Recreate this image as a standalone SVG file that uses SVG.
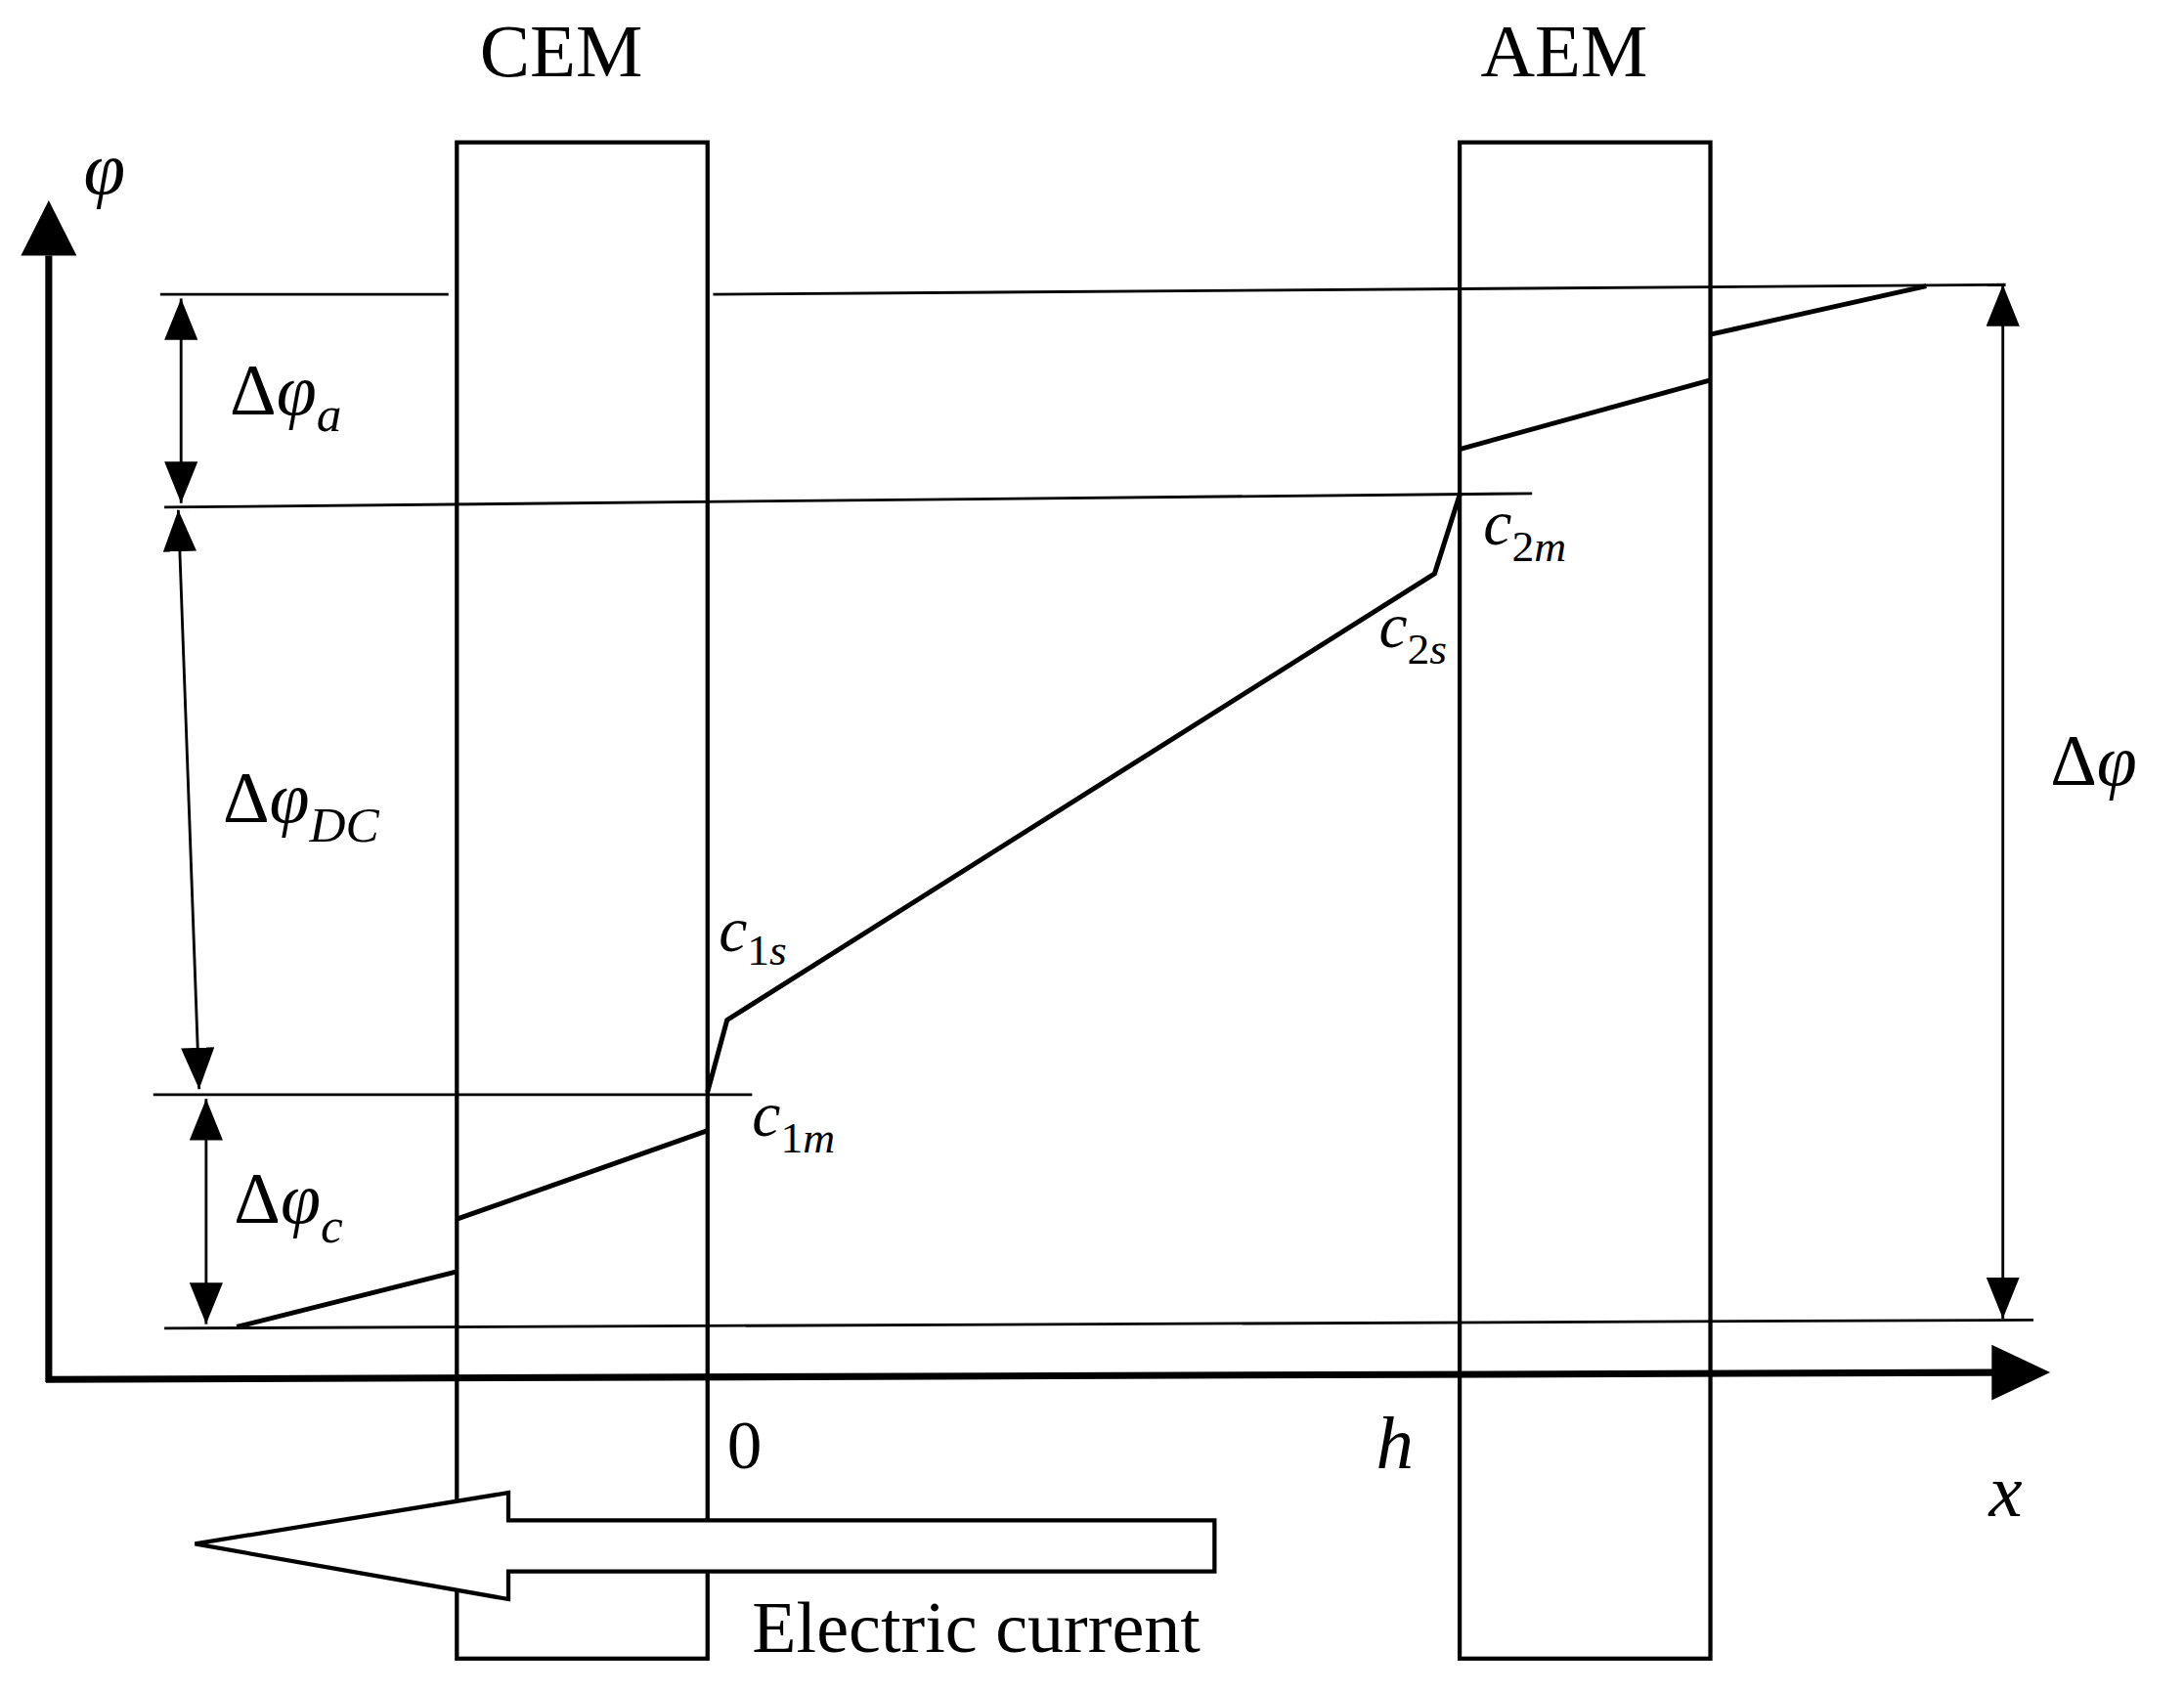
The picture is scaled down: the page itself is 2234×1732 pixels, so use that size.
<svg xmlns="http://www.w3.org/2000/svg" width="2234" height="1732" viewBox="0 0 2234 1732">
<style>
.t{font-family:"Liberation Serif",serif;fill:#000}
.i{font-style:italic}
.ln{stroke:#000;fill:none}
</style>
<defs>
<marker id="ah" viewBox="0 0 10 10" refX="10" refY="5" markerWidth="9" markerHeight="9" orient="auto-start-reverse" markerUnits="userSpaceOnUse"><path d="M0,0 L10,5 L0,10 z" fill="#000"/></marker>
<marker id="dh" viewBox="0 0 10 10" refX="10" refY="5" markerWidth="30" markerHeight="24" orient="auto-start-reverse" markerUnits="userSpaceOnUse" preserveAspectRatio="none"><path d="M0,0 L10,5 L0,10 z" fill="#000"/></marker>
</defs>
<rect width="2234" height="1732" fill="#fff"/>
<g transform="scale(1.4247 1.414)">
<g id="cem"><rect x="328" y="103" width="180" height="1097" class="ln" stroke-width="3"/><text x="403" y="55" font-size="54" text-anchor="middle" class="t">CEM</text></g>
<g id="aem"><rect x="1048" y="103" width="180" height="1097" class="ln" stroke-width="3"/><text x="1123" y="55" font-size="54" text-anchor="middle" class="t">AEM</text></g>
<g id="axes">
<line x1="35" y1="1000" x2="35" y2="185" class="ln" stroke-width="5"/><path d="M15,185 L35,145 L55,185 z"/>
<line x1="33" y1="998" x2="1432" y2="993" class="ln" stroke-width="5"/><path d="M1430,973 L1472,993 L1430,1013 z"/>
<text x="60" y="140" font-size="54" class="t i">φ</text>
<text x="522" y="1062" font-size="50" class="t">0</text>
<text x="988" y="1062" font-size="54" class="t i">h</text>
<text x="1428" y="1097" font-size="54" class="t i">x</text>
</g>
<g id="connectors" stroke-width="2">
<line x1="115" y1="213" x2="322" y2="213" class="ln"/>
<line x1="512" y1="213" x2="1440" y2="206" class="ln"/>
<line x1="118" y1="367" x2="1100" y2="357" class="ln"/>
<line x1="110" y1="792" x2="540" y2="792" class="ln"/>
<line x1="118" y1="961" x2="1460" y2="955" class="ln"/>
<polyline points="170,960 328,920" class="ln" stroke-width="3.5"/>
<polyline points="328,882 508,818" class="ln" stroke-width="3.5"/>
<polyline points="508,790 522,738 1030,415 1048,358" class="ln" stroke-width="3.5"/>
<polyline points="1048,325 1228,275" class="ln" stroke-width="3.5"/>
<polyline points="1228,242 1383,207" class="ln" stroke-width="3.5"/>
<line x1="130" y1="216" x2="130" y2="364" class="ln" marker-start="url(#dh)" marker-end="url(#dh)"/>
<line x1="128" y1="369" x2="143" y2="788" class="ln" marker-start="url(#dh)" marker-end="url(#dh)"/>
<line x1="148" y1="795" x2="148" y2="958" class="ln" marker-start="url(#dh)" marker-end="url(#dh)"/>
<line x1="1438" y1="206" x2="1438" y2="954" class="ln" marker-start="url(#dh)" marker-end="url(#dh)"/>
<path d="M140,1117 L365,1080 L365,1100 L872,1100 L872,1137 L365,1137 L365,1157 z" fill="#fff" stroke="#000" stroke-width="3"/>
</g>
<g id="labels" class="t">
<text x="165" y="300" font-size="52">Δ<tspan class="i">φ</tspan><tspan class="i" font-size="36" dy="12">a</tspan></text>
<text x="160" y="595" font-size="52">Δ<tspan class="i">φ</tspan><tspan class="i" font-size="36" dy="14">DC</tspan></text>
<text x="168" y="885" font-size="52">Δ<tspan class="i">φ</tspan><tspan class="i" font-size="36" dy="14">c</tspan></text>
<text x="1472" y="568" font-size="52">Δ<tspan class="i">φ</tspan></text>
<text x="516" y="688" font-size="46" class="i">c<tspan font-size="32" dy="10" font-style="normal">1</tspan><tspan font-size="32">s</tspan></text>
<text x="540" y="822" font-size="46" class="i">c<tspan font-size="32" dy="12" font-style="normal">1</tspan><tspan font-size="32">m</tspan></text>
<text x="990" y="468" font-size="46" class="i">c<tspan font-size="32" dy="12" font-style="normal">2</tspan><tspan font-size="32">s</tspan></text>
<text x="1065" y="394" font-size="46" class="i">c<tspan font-size="32" dy="12" font-style="normal">2</tspan><tspan font-size="32">m</tspan></text>
<text x="540" y="1195" font-size="52">Electric current</text>
</g>
</g>
</svg>
